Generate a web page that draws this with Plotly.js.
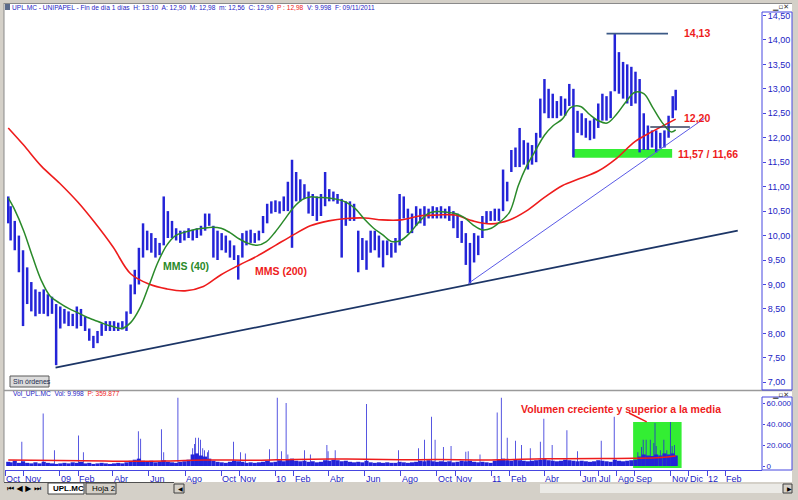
<!DOCTYPE html>
<html><head><meta charset="utf-8">
<script src="https://cdn.plot.ly/plotly-3.0.1.min.js"></script>
<style>body{margin:0;background:#fff}#chart{width:798px;height:500px}</style>
</head><body><div id="chart"></div>
<script>
// ---------- DATA ----------
const weekDates = [
"2008-10-06","2008-10-10","2008-10-17","2008-10-24","2008-10-31","2008-11-07","2008-11-14","2008-11-21","2008-11-28","2008-12-05","2008-12-12","2008-12-19","2008-12-26",
"2009-01-02","2009-01-09","2009-01-16","2009-01-23","2009-01-30","2009-02-06","2009-02-13","2009-02-20","2009-02-27","2009-03-06","2009-03-13","2009-03-20","2009-03-27","2009-04-03","2009-04-10","2009-04-17","2009-04-24","2009-05-01","2009-05-08","2009-05-15","2009-05-22","2009-05-29","2009-06-05","2009-06-12","2009-06-19","2009-06-26","2009-07-03","2009-07-10","2009-07-17","2009-07-24","2009-07-31","2009-08-07","2009-08-14","2009-08-21","2009-08-28","2009-09-04","2009-09-11","2009-09-18","2009-09-25","2009-10-02","2009-10-09","2009-10-16","2009-10-23","2009-10-30","2009-11-06","2009-11-13","2009-11-20","2009-11-27","2009-12-04","2009-12-11","2009-12-18","2009-12-25",
"2010-01-01","2010-01-08","2010-01-15","2010-01-22","2010-01-29","2010-02-05","2010-02-12","2010-02-19","2010-02-26","2010-03-05","2010-03-12","2010-03-19","2010-03-26","2010-04-02","2010-04-09","2010-04-16","2010-04-23","2010-04-30","2010-05-07","2010-05-14","2010-05-21","2010-05-28","2010-06-04","2010-06-11","2010-06-18","2010-06-25","2010-07-02","2010-07-09","2010-07-16","2010-07-23","2010-07-30","2010-08-06","2010-08-13","2010-08-20","2010-08-27","2010-09-03","2010-09-10","2010-09-17","2010-09-24","2010-10-01","2010-10-08","2010-10-15","2010-10-22","2010-10-29","2010-11-05","2010-11-12","2010-11-19","2010-11-26","2010-12-03","2010-12-10","2010-12-17","2010-12-24","2010-12-31",
"2011-01-07","2011-01-14","2011-01-21","2011-01-28","2011-02-04","2011-02-11","2011-02-18","2011-02-25","2011-03-04","2011-03-11","2011-03-18","2011-03-25","2011-04-01","2011-04-08","2011-04-15","2011-04-22","2011-04-29","2011-05-06","2011-05-13","2011-05-20","2011-05-27","2011-06-03","2011-06-10","2011-06-17","2011-06-24","2011-07-01","2011-07-08","2011-07-15","2011-07-22","2011-07-29","2011-08-05","2011-08-12","2011-08-19","2011-08-26","2011-09-02","2011-09-09","2011-09-16","2011-09-23","2011-09-30","2011-10-07","2011-10-14","2011-10-21","2011-10-28","2011-11-04","2011-11-09"];

const weekHigh = [
10.80,10.60,10.30,10.00,9.70,9.35,9.05,8.90,8.85,8.90,8.80,8.75,8.60,
8.55,8.50,8.45,8.40,8.55,8.50,8.35,8.10,7.95,8.05,8.20,8.25,8.25,8.25,8.22,8.25,8.45,9.00,9.30,9.75,10.25,10.10,10.05,9.95,9.85,10.80,10.50,10.30,10.15,10.10,10.10,10.15,10.12,10.15,10.20,10.45,10.45,10.20,10.10,10.05,10.00,9.90,9.80,9.60,10.05,10.10,10.12,10.05,10.10,10.40,10.65,10.70,
10.72,10.70,10.80,11.10,11.55,11.30,11.15,11.05,10.90,10.85,10.80,10.85,11.30,10.95,10.90,10.85,10.75,10.70,10.70,10.65,10.10,9.95,9.90,10.10,10.10,10.00,9.90,9.90,9.85,9.95,10.85,10.80,10.55,10.45,10.60,10.55,10.60,10.55,10.60,10.58,10.60,10.55,10.60,10.50,10.45,10.30,10.05,9.85,10.05,10.00,10.40,10.50,10.50,
10.55,10.55,11.35,11.10,11.75,11.80,12.20,11.95,11.90,11.85,12.10,12.80,13.20,13.00,12.90,12.75,12.85,12.80,13.10,13.00,12.55,12.50,12.40,12.35,12.40,12.70,12.90,12.85,12.95,14.13,13.75,13.55,13.50,13.45,13.35,13.20,12.50,12.25,12.15,12.15,12.10,12.15,12.45,12.85,12.98];

const weekLow = [
10.25,9.90,9.70,9.25,8.15,8.60,8.45,8.35,8.40,8.40,8.35,8.40,7.35,
8.10,8.20,8.15,8.15,8.10,8.15,8.05,7.85,7.70,7.80,7.95,8.05,8.05,8.05,8.05,8.08,8.05,8.40,8.80,9.00,9.55,9.70,9.65,9.55,9.60,9.80,9.95,9.95,9.90,9.85,9.90,9.95,9.90,9.95,10.00,10.10,10.20,9.55,9.50,9.70,9.65,9.55,9.50,9.10,9.55,9.80,9.85,9.85,9.90,10.05,10.25,10.45,
10.48,10.45,10.50,10.50,9.75,10.70,10.70,10.75,10.45,10.40,10.30,10.40,10.60,10.70,10.70,10.65,9.55,10.20,10.30,10.30,9.25,9.50,9.30,9.65,9.70,9.55,9.35,9.60,9.55,9.65,9.80,10.35,10.05,10.05,10.20,10.25,10.20,10.35,10.35,10.35,10.35,10.35,10.30,10.15,9.95,9.85,9.40,9.02,9.45,9.60,9.95,10.25,10.30,
10.30,10.30,10.50,10.70,11.30,11.40,11.40,11.45,11.35,11.45,11.50,12.00,12.50,12.40,12.40,12.40,12.45,12.45,12.65,11.60,12.10,12.05,12.00,11.95,11.98,12.20,12.35,12.35,12.40,12.95,12.90,12.80,12.70,12.65,12.70,11.70,11.75,11.75,11.80,11.70,11.78,11.80,12.00,12.40,12.56];

const mms40Dates = ["2008-10-06","2008-10-16","2008-11-01","2008-11-16","2008-12-01","2008-12-16","2009-01-01","2009-01-16","2009-02-01","2009-02-16","2009-03-01","2009-03-16","2009-04-01","2009-04-16","2009-05-01","2009-05-16","2009-06-01","2009-06-16","2009-07-01","2009-07-16","2009-08-01","2009-08-16","2009-09-01","2009-09-16","2009-10-01","2009-10-16","2009-11-01","2009-11-16","2009-12-01","2009-12-16","2010-01-01","2010-01-16","2010-02-01","2010-02-16","2010-03-01","2010-03-16","2010-04-01","2010-04-16","2010-05-01","2010-05-16","2010-06-01","2010-06-16","2010-07-01","2010-07-16","2010-08-01","2010-08-16","2010-09-01","2010-09-16","2010-10-01","2010-10-16","2010-11-01","2010-11-16","2010-12-01","2010-12-16","2011-01-01","2011-01-16","2011-02-01","2011-02-16","2011-03-01","2011-03-16","2011-04-01","2011-04-16","2011-05-01","2011-05-16","2011-06-01","2011-06-16","2011-07-01","2011-07-16","2011-08-01","2011-08-16","2011-09-01","2011-09-16","2011-10-01","2011-10-16","2011-11-01","2011-11-09"];
const mms40 = [10.77,10.55,10.10,9.57,9.08,8.76,8.62,8.51,8.42,8.33,8.27,8.20,8.14,8.10,8.22,8.50,8.98,9.45,9.80,10.00,10.07,10.12,10.15,10.17,10.15,10.06,9.93,9.84,9.80,9.87,10.08,10.32,10.58,10.74,10.79,10.78,10.77,10.74,10.68,10.55,10.33,10.15,10.02,9.88,9.90,10.05,10.28,10.45,10.49,10.48,10.45,10.37,10.22,10.12,10.15,10.28,10.48,11.03,11.40,11.72,12.05,12.25,12.38,12.62,12.64,12.48,12.35,12.30,12.48,12.72,12.93,12.90,12.62,12.33,12.12,12.16];

const mms200Dates = ["2008-10-06","2008-11-01","2008-12-01","2009-01-01","2009-02-01","2009-03-01","2009-04-01","2009-05-01","2009-06-01","2009-07-01","2009-08-01","2009-09-01","2009-10-01","2009-11-01","2009-12-01","2010-01-01","2010-02-01","2010-03-01","2010-04-01","2010-05-01","2010-06-01","2010-07-01","2010-08-01","2010-09-01","2010-10-01","2010-11-01","2010-12-01","2011-01-01","2011-02-01","2011-03-01","2011-04-01","2011-05-01","2011-06-01","2011-07-01","2011-08-01","2011-09-01","2011-10-01","2011-11-01","2011-11-09"];
const mms200 = [12.20,11.85,11.42,11.07,10.68,10.27,9.77,9.22,9.01,8.91,8.87,8.96,9.20,9.40,9.58,9.80,10.02,10.20,10.30,10.35,10.36,10.32,10.32,10.40,10.42,10.42,10.30,10.24,10.32,10.50,10.78,11.02,11.17,11.32,11.58,11.92,12.13,12.33,12.38];

// typical weekly volume level (same weeks as weekDates)
const volWeekly = [
4000,3500,5000,3000,4500,3000,2500,3500,2500,4000,3000,2500,2000,
2500,3000,2500,3500,3000,4000,2500,3000,2000,2500,3000,2500,2000,2500,3000,2500,3500,5000,6000,7000,5000,4000,5000,3500,4000,5500,4000,3500,3000,4000,4500,6000,11000,12000,10000,9000,7000,5000,4000,3500,3000,4000,5000,4500,4000,3000,3500,3000,3500,4000,5000,3500,
4000,5500,4500,6000,7000,5000,4500,5000,4000,4500,3500,4000,5500,5000,6000,5500,4500,5000,4000,3500,4000,3500,5000,3500,3000,3500,3000,3500,3000,3000,4000,3500,3000,3500,4000,5000,4500,5500,4500,4000,4500,4000,4500,3500,4000,5000,4500,5000,4000,3500,4000,3500,3000,
5000,6000,7000,5500,5000,6000,5500,5000,4500,5000,5500,6000,6500,5500,5000,4500,5000,6000,5500,5000,4500,5000,4500,4000,4500,5500,5000,4500,4000,6000,5000,4500,5000,5500,6000,9000,11000,10000,9500,11000,10000,12000,11000,12000,10000];

// single-day volume peaks
const volPeakDates = ["2008-10-29","2008-12-04","2008-12-23","2009-02-02","2009-02-10","2009-05-14","2009-05-18","2009-06-22","2009-06-26","2009-07-20","2009-08-14","2009-08-17","2009-08-19","2009-08-24","2009-08-27","2009-08-31","2009-09-03","2009-09-08","2009-09-10","2009-10-22","2009-11-03","2009-11-11","2009-12-22","2010-01-04","2010-01-11","2010-01-19","2010-01-22","2010-02-19","2010-03-01","2010-03-29","2010-03-31","2010-04-12","2010-06-04","2010-07-28","2010-08-31","2010-09-10","2010-09-22","2010-09-28","2010-10-12","2010-10-25","2010-11-19","2010-11-23","2010-12-13","2011-01-11","2011-01-18","2011-01-28","2011-02-11","2011-02-21","2011-03-08","2011-03-25","2011-03-31","2011-04-14","2011-05-09","2011-05-27","2011-07-06","2011-07-28","2011-09-06","2011-09-12","2011-09-15","2011-09-20","2011-09-27","2011-10-03","2011-10-05","2011-10-07","2011-10-14","2011-10-20","2011-10-25","2011-10-31","2011-11-03","2011-11-07","2011-11-09"];
const volPeaks = [23000,50000,15000,29000,13000,33000,26000,35000,13000,65000,17000,21000,27000,27000,25000,17000,15000,13000,15000,23000,13000,12000,16000,65000,14000,60000,11000,15000,11000,20000,14000,15000,59000,15000,17000,25000,47000,25000,18000,19000,13500,14000,11000,51000,65000,27000,24000,20000,17000,23000,45000,20000,34000,14000,24000,47000,13000,18000,25000,25000,25000,22000,41000,19000,15000,25000,15000,42000,19000,20000,9998];

const volAvgDates = ["2008-10-06","2009-01-01","2009-04-01","2009-07-01","2009-09-01","2009-12-01","2010-02-01","2010-05-01","2010-08-01","2010-10-01","2011-01-01","2011-04-01","2011-07-01","2011-09-01","2011-10-15","2011-11-09"];
const volAvg = [5700,5200,4600,4800,5800,5500,6300,6600,6000,6100,5800,6800,7200,7300,8000,9500];

const tickDates = ["2008-10-01","2008-11-01","2009-01-01","2009-02-01","2009-04-01","2009-06-01","2009-08-01","2009-10-01","2009-11-01","2010-01-01","2010-02-01","2010-04-01","2010-06-01","2010-08-01","2010-10-01","2010-11-01","2011-01-01","2011-02-01","2011-04-01","2011-06-01","2011-07-01","2011-08-01","2011-09-01","2011-11-01","2011-12-01","2012-01-01","2012-02-01"];
const tickLabels = ["Oct","Nov","09","Feb","Abr","Jun","Ago","Oct","Nov","10","Feb","Abr","Jun","Ago","Oct","Nov","11","Feb","Abr","Jun","Jul","Ago","Sep","Nov","Dic","12","Feb"];

// hand-drawn analysis lines
const supportDates = ["2008-12-25","2012-02-22"], supportPrices = [7.30,10.10];
const shortTrendDates = ["2010-11-23","2011-12-28"], shortTrendPrices = [9.02,12.40];
const topLineDates = ["2011-07-15","2011-10-27"], topLinePrices = [14.13,14.13];
const midLineDates = ["2011-09-27","2011-12-03"], midLinePrices = [12.22,12.22];
const zoneDates = ["2011-05-19","2011-11-03"], zonePrices = [11.59,11.77];
const volZoneDates = ["2011-08-29","2011-11-19"], volZoneRange = [-2000,42000];

// ---------- DRAWING ----------
const DAY = 86400000;
const P = px => px / 798;
const Q = py => 1 - py / 500;
const BLUE = '#2424d8';
const AXB = '#4646e0';
const TXTB = '#1c1cc4';
const RED = '#ee1c1c';
const GREENL = '#2a8a2a';
const GRAY = '#d4d0c8';
const SANS = 'Liberation Sans, Arial, sans-serif';

const traces = [
  {type:'bar', x:weekDates, base:weekLow, y:weekHigh.map((h,i)=>+(h-weekLow[i]).toFixed(3)),
   width:4.2*DAY, marker:{color:BLUE, line:{width:0}}, xaxis:'x', yaxis:'y', hoverinfo:'skip'},
  {type:'scatter', mode:'lines', x:mms200Dates, y:mms200, line:{color:RED, width:1.6, shape:'spline'}, xaxis:'x', yaxis:'y', hoverinfo:'skip'},
  {type:'scatter', mode:'lines', x:mms40Dates, y:mms40, line:{color:GREENL, width:1.5, shape:'spline'}, xaxis:'x', yaxis:'y', hoverinfo:'skip'},
  {type:'scatter', mode:'lines', x:supportDates, y:supportPrices, line:{color:'#1c3566', width:1.8}, xaxis:'x', yaxis:'y', hoverinfo:'skip'},
  {type:'scatter', mode:'lines', x:shortTrendDates, y:shortTrendPrices, line:{color:'#5a5ae6', width:1}, xaxis:'x', yaxis:'y', hoverinfo:'skip'},
  {type:'scatter', mode:'lines', x:topLineDates, y:topLinePrices, line:{color:'#3c5a86', width:1.8}, xaxis:'x', yaxis:'y', hoverinfo:'skip'},
  {type:'scatter', mode:'lines', x:midLineDates, y:midLinePrices, line:{color:'#34405e', width:1.5}, xaxis:'x', yaxis:'y', hoverinfo:'skip'},
  {type:'bar', x:weekDates, y:volWeekly, width:7*DAY, marker:{color:BLUE, line:{width:0}}, xaxis:'x', yaxis:'y2', hoverinfo:'skip'},
  {type:'bar', x:volPeakDates, y:volPeaks, width:1.3*DAY, marker:{color:BLUE, line:{width:0}}, xaxis:'x', yaxis:'y2', hoverinfo:'skip'},
  {type:'scatter', mode:'lines', x:volAvgDates, y:volAvg, line:{color:RED, width:1.5, shape:'spline'}, xaxis:'x', yaxis:'y2', hoverinfo:'skip'}
];

const pr = (x0,y0,x1,y1,o) => Object.assign({type:'rect', xref:'paper', yref:'paper', x0:P(x0), x1:P(x1), y0:Q(y1), y1:Q(y0), line:{width:0}}, o);
const pl = (x0,y0,x1,y1,o) => Object.assign({type:'line', xref:'paper', yref:'paper', x0:P(x0), x1:P(x1), y0:Q(y0), y1:Q(y1)}, o);

const shapes = [
  {type:'rect', xref:'x', yref:'y', x0:zoneDates[0], x1:zoneDates[1], y0:zonePrices[0], y1:zonePrices[1], fillcolor:'#33ee33', line:{width:0}, layer:'below'},
  {type:'rect', xref:'x', yref:'y2', x0:volZoneDates[0], x1:volZoneDates[1], y0:volZoneRange[0], y1:volZoneRange[1], fillcolor:'#33ee33', line:{width:0}, layer:'below'},
  {type:'line', xref:'x', yref:'y2', x0:'2011-08-22', y0:50500, x1:'2011-09-21', y1:42000, line:{color:RED, width:1.5}},
  // window chrome
  pr(0,0,4,500,{fillcolor:GRAY}),
  pr(792,0,798,500,{fillcolor:GRAY}),
  pr(0,0,798,3,{fillcolor:GRAY}),
  pr(0,482,798,500,{fillcolor:GRAY}),
  pl(4,3,4,482,{line:{color:'#8a8a8a', width:1}}),
  pl(4,3.5,792,3.5,{line:{color:'#8a8a8a', width:1}}),
  pl(4,390.5,792,390.5,{line:{color:'#9a9a9a', width:1.5}}),
  pr(762,12,792,390,{line:{color:AXB, width:1}}),
  pr(762,397,792,470,{line:{color:AXB, width:1}}),
  pr(5,4,10,10,{fillcolor:'#5a6a8a'}),
  pr(10,376,49,387,{fillcolor:'#dcdcdc', line:{color:'#5a5a5a', width:1}}),
  // tabs area
  pl(4,482.5,174,482.5,{line:{color:'#505050', width:1}}),
  pr(48,483,84,494,{fillcolor:'#ffffff', line:{color:'#404040', width:1}}),
  pr(86,483,116,494,{fillcolor:GRAY, line:{color:'#404040', width:1}}),
  pr(174,484,184,493,{fillcolor:GRAY, line:{color:'#404040', width:1}}),
  pr(540,484,783,493,{fillcolor:'#ebeae6'}),
  pr(783,484,792,493,{fillcolor:GRAY, line:{color:'#404040', width:1}})
];

const ann = [];
const addP = (x,y,text,font,o) => ann.push(Object.assign({xref:'paper', yref:'paper', x:P(x), y:Q(y), text, showarrow:false, xanchor:'left', yanchor:'middle', font}, o||{}));
tickDates.forEach((d,i) => ann.push({xref:'x', yref:'paper', x:d, y:Q(479), text:tickLabels[i], showarrow:false, xanchor:'left', yanchor:'middle', xshift:-1, font:{family:SANS, size:9, color:TXTB}}));
addP(10,7.5,'UPL.MC - UNIPAPEL - Fin de día 1 días  H: 13:10  A: 12,90  M: 12,98  m: 12,56  C: 12,90  <span style="color:#ee2222">P : 12,98</span>  V: 9.998  F: 09/11/2011',{family:SANS,size:6.6,color:TXTB});
addP(11,394,'Vol_UPL.MC  Vol: 9.998  <span style="color:#ee2222">P: 359.877</span>',{family:SANS,size:6.6,color:TXTB});
addP(11,381.5,'Sin órdenes',{family:SANS,size:7,color:'#1a2a50'});
addP(770,6.5,'▁▫✕',{family:'DejaVu Sans',size:7,color:'#333'});
addP(770,395,'▁▫✕',{family:'DejaVu Sans',size:7,color:'#333'});
addP(5,488.5,'⏮ ◀ ▶ ⏭',{family:'DejaVu Sans',size:8,color:'#000'});
addP(51,488.5,'<b>UPL.MC</b>',{family:SANS,size:8,color:'#000'});
addP(90,488.5,'Hoja 2',{family:SANS,size:8,color:'#000'});
addP(175.5,488.5,'◀',{family:'DejaVu Sans',size:6,color:'#000'});
addP(784.5,488.5,'▶',{family:'DejaVu Sans',size:6,color:'#000'});
const AF = {family:SANS, size:10.5, color:RED};
const bold = t => '<b>'+t+'</b>';
ann.push({xref:'x', yref:'y', x:'2011-11-19', y:14.14, text:bold('14,13'), showarrow:false, xanchor:'left', font:AF});
ann.push({xref:'x', yref:'y', x:'2011-11-20', y:12.41, text:bold('12,20'), showarrow:false, xanchor:'left', font:AF});
ann.push({xref:'x', yref:'y', x:'2011-11-10', y:11.66, text:bold('11,57 / 11,66'), showarrow:false, xanchor:'left', font:AF});
ann.push({xref:'x', yref:'y', x:'2009-06-21', y:9.37, text:bold('MMS (40)'), showarrow:false, xanchor:'left', font:{family:SANS,size:10.5,color:GREENL}});
ann.push({xref:'x', yref:'y', x:'2009-11-24', y:9.27, text:bold('MMS (200)'), showarrow:false, xanchor:'left', font:AF});
ann.push({xref:'x', yref:'y2', x:'2011-02-17', y:54300, text:bold('Volumen creciente y superior a la media'), showarrow:false, xanchor:'left', font:AF});

const layout = {
  width:798, height:500, margin:{l:0,r:0,t:0,b:0},
  paper_bgcolor:'#ffffff', plot_bgcolor:'#ffffff', showlegend:false,
  barmode:'overlay', separators:',.',
  xaxis:{type:'date', domain:[P(5),P(762)], anchor:'y2', range:['2008-09-30T12:00','2012-04-03'],
         showgrid:false, zeroline:false, showline:true, linecolor:AXB, linewidth:1,
         ticks:'outside', ticklen:5, tickcolor:AXB, tickvals:tickDates, showticklabels:false, fixedrange:true},
  yaxis:{domain:[Q(390),Q(13)], anchor:'x', side:'right', range:[6.843,14.55], tick0:7, dtick:0.5, tickformat:'.2f',
         showgrid:false, zeroline:false, showline:false, ticks:'outside', ticklen:3, tickcolor:AXB,
         tickfont:{family:SANS, size:9, color:TXTB}, fixedrange:true},
  yaxis2:{domain:[Q(470),Q(397)], anchor:'x', side:'right', range:[-3810,65714], tickvals:[0,20000,40000,60000], tickformat:',d',
          showgrid:false, zeroline:false, showline:false, ticks:'outside', ticklen:2, tickcolor:AXB,
          tickfont:{family:SANS, size:8, color:TXTB}, fixedrange:true},
  shapes:shapes, annotations:ann
};
Plotly.newPlot('chart', traces, layout, {displayModeBar:false, staticPlot:true});
</script>
</body></html>
